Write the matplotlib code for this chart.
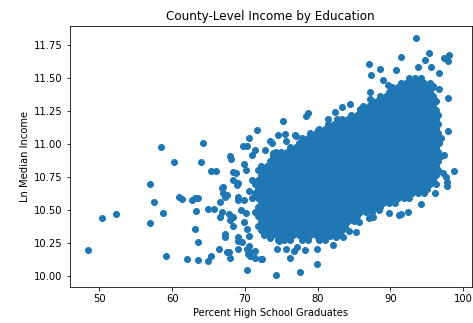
import numpy as np
import matplotlib
matplotlib.use('Agg')
import matplotlib.pyplot as plt

# scattered counties around the main cloud (percent HS grads, ln median income)
hs_scatter = [
    48.4, 50.3, 52.3, 56.9, 57.0, 57.5, 58.5, 58.7, 59.2, 60.3, 61.0, 61.4, 62.1, 62.7,
    63.1, 63.6, 63.3, 63.2, 63.6, 63.6, 64.3, 63.9, 64.9, 65.7, 65.3, 66.0, 64.9, 65.3,
    68.0, 68.1, 68.7, 68.4, 68.9, 66.9, 67.0, 67.5, 66.6, 69.0, 66.9, 66.6, 68.0, 68.4,
    67.3, 67.3, 66.4, 67.5, 68.0, 69.0, 69.0, 68.4, 67.0, 67.3, 68.2, 69.6, 70.3, 70.7,
    71.4, 72.2, 70.3, 69.1, 69.1, 69.8, 67.8, 69.4, 69.8, 68.4, 70.3, 69.1, 67.8, 70.7,
    71.4, 70.4, 70.6, 69.7, 70.6, 70.9, 71.6, 70.3, 71.4, 72.8, 73.7, 73.9, 73.4, 70.2,
    69.8, 70.5, 70.2, 70.5,
    74.5, 75.2, 75.5, 75.6, 76.9, 77.0, 78.4, 78.7, 80.1, 81.4, 82.4, 83.3, 84.4, 85.8,
    87.2, 87.2, 87.1, 87.3, 88.5, 89.0, 89.7, 90.8, 91.4, 93.5, 93.8, 94.7, 95.3, 95.6,
    96.7, 97.4, 98.0, 97.9, 96.7, 95.9,
    97.9, 97.9, 96.7, 97.4, 98.7, 97.2, 97.8, 96.1, 97.6, 97.8,
    94.2, 92.4, 91.5, 91.2, 89.8, 88.4, 87.6, 87.1, 85.7, 85.3, 84.3, 83.5, 82.5, 81.7,
    81.1, 80.0, 82.1, 79.9, 78.3, 77.1, 76.7, 74.4, 75.7, 74.7, 73.4, 76.2, 72.3, 79.9,
    77.5, 74.3,
]
inc_scatter = [
    10.195, 10.435, 10.47, 10.397, 10.694, 10.563, 10.98, 10.48, 10.149, 10.86, 10.599,
    10.581, 10.13, 10.573, 10.589, 10.591, 10.49, 10.353, 10.259, 10.123, 11.008, 10.86,
    10.51, 10.51, 10.798, 10.798, 10.11, 10.151,
    10.906, 10.886, 10.778, 10.727, 10.688, 10.663, 10.625, 10.612, 10.56, 10.573, 10.483,
    10.445, 10.42, 10.445, 10.318, 10.292, 10.203, 10.177, 10.138, 10.266, 10.203, 10.79,
    10.676, 10.60, 10.445, 10.253, 10.203, 10.151, 10.138, 10.126, 10.044, 10.70, 10.60,
    10.573, 10.471, 10.497, 10.407, 10.381, 10.356, 10.292, 10.177, 10.177, 10.19, 10.164,
    10.228, 10.982, 11.047, 10.919, 11.105, 10.982, 10.957, 10.957, 11.008, 10.932,
    11.021, 10.80, 10.85, 10.64, 10.48, 10.30,
    11.064, 11.174, 11.072, 11.02, 11.064, 11.059, 11.213, 11.231, 11.103, 11.187, 11.239,
    11.277, 11.302, 11.264, 11.392, 11.34, 11.609, 11.525, 11.571, 11.481, 11.443, 11.558,
    11.655, 11.80, 11.584, 11.635, 11.686, 11.584, 11.538, 11.648, 11.673, 11.627, 11.417,
    11.44,
    11.346, 11.097, 11.008, 10.919, 10.796, 10.778, 10.681, 10.625, 10.752, 10.714,
    10.543, 10.483, 10.471, 10.458, 10.476, 10.497, 10.445, 10.44, 10.407, 10.33, 10.343,
    10.292, 10.292, 10.305, 10.318, 10.292, 10.233, 10.203, 10.195, 10.215, 10.19, 10.203,
    10.203, 10.266, 10.287, 10.138, 10.126, 10.092, 10.031, 10.003,
]

# dense core of the cloud, read row by row (income level -> grad percentages)
core_inc = [11.500, 11.465, 11.430, 11.395, 11.360, 11.325, 11.290, 11.255, 11.220,
            11.185, 11.150, 11.115, 11.080, 11.045, 11.010, 10.975, 10.940, 10.905,
            10.870, 10.835, 10.800, 10.765, 10.730, 10.695, 10.660, 10.625, 10.590,
            10.555, 10.520, 10.485, 10.450, 10.415, 10.380, 10.345, 10.310, 10.275]
core_hs = [
    [92.6, 93.4, 94.2],
    [91.4, 92.2, 93.0, 93.8, 94.6, 95.4],
    [90.2, 91.0, 91.8, 92.6, 93.4, 94.2, 95.0, 95.8],
    [89.8, 90.6, 91.4, 92.2, 93.0, 93.8, 94.6, 95.4],
    [88.6, 89.4, 90.2, 91.0, 91.8, 92.6, 93.4, 94.2, 95.0, 95.8],
    [87.4, 88.2, 89.0, 89.8, 90.6, 91.4, 92.2, 93.0, 93.8, 94.6, 95.4, 96.2],
    [86.2, 87.0, 87.8, 88.6, 89.4, 90.2, 91.0, 91.8, 92.6, 93.4, 94.2, 95.0, 95.8],
    [85.8, 86.6, 87.4, 88.2, 89.0, 89.8, 90.6, 91.4, 92.2, 93.0, 93.8, 94.6, 95.4, 96.2],
    [84.6, 85.4, 86.2, 87.0, 87.8, 88.6, 89.4, 90.2, 91.0, 91.8, 92.6, 93.4, 94.2, 95.0,
     95.8, 96.6],
    [82.6, 83.4, 84.2, 85.0, 85.8, 86.6, 87.4, 88.2, 89.0, 89.8, 90.6, 91.4, 92.2, 93.0,
     93.8, 94.6, 95.4, 96.2],
    [81.4, 82.2, 83.0, 83.8, 84.6, 85.4, 86.2, 87.0, 87.8, 88.6, 89.4, 90.2, 91.0, 91.8,
     92.6, 93.4, 94.2, 95.0, 95.8, 96.6],
    [80.2, 81.0, 81.8, 82.6, 83.4, 84.2, 85.0, 85.8, 86.6, 87.4, 88.2, 89.0, 89.8, 90.6,
     91.4, 92.2, 93.0, 93.8, 94.6, 95.4, 96.2],
    [79.0, 79.8, 80.6, 81.4, 82.2, 83.0, 83.8, 84.6, 85.4, 86.2, 87.0, 87.8, 88.6, 89.4,
     90.2, 91.0, 91.8, 92.6, 93.4, 94.2, 95.0, 95.8, 96.6],
    [77.8, 78.6, 79.4, 80.2, 81.0, 81.8, 82.6, 83.4, 84.2, 85.0, 85.8, 86.6, 87.4, 88.2,
     89.0, 89.8, 90.6, 91.4, 92.2, 93.0, 93.8, 94.6, 95.4, 96.2, 97.0],
    [77.4, 78.2, 79.0, 79.8, 80.6, 81.4, 82.2, 83.0, 83.8, 84.6, 85.4, 86.2, 87.0, 87.8,
     88.6, 89.4, 90.2, 91.0, 91.8, 92.6, 93.4, 94.2, 95.0, 95.8, 96.6],
    [76.2, 77.0, 77.8, 78.6, 79.4, 80.2, 81.0, 81.8, 82.6, 83.4, 84.2, 85.0, 85.8, 86.6,
     87.4, 88.2, 89.0, 89.8, 90.6, 91.4, 92.2, 93.0, 93.8, 94.6, 95.4, 96.2],
    [74.2, 75.0, 75.8, 76.6, 77.4, 78.2, 79.0, 79.8, 80.6, 81.4, 82.2, 83.0, 83.8, 84.6,
     85.4, 86.2, 87.0, 87.8, 88.6, 89.4, 90.2, 91.0, 91.8, 92.6, 93.4, 94.2, 95.0, 95.8,
     96.6],
    [73.8, 74.6, 75.4, 76.2, 77.0, 77.8, 78.6, 79.4, 80.2, 81.0, 81.8, 82.6, 83.4, 84.2,
     85.0, 85.8, 86.6, 87.4, 88.2, 89.0, 89.8, 90.6, 91.4, 92.2, 93.0, 93.8, 94.6, 95.4,
     96.2, 97.0],
    [73.4, 74.2, 75.0, 75.8, 76.6, 77.4, 78.2, 79.0, 79.8, 80.6, 81.4, 82.2, 83.0, 83.8,
     84.6, 85.4, 86.2, 87.0, 87.8, 88.6, 89.4, 90.2, 91.0, 91.8, 92.6, 93.4, 94.2, 95.0,
     95.8, 96.6],
    [72.2, 73.0, 73.8, 74.6, 75.4, 76.2, 77.0, 77.8, 78.6, 79.4, 80.2, 81.0, 81.8, 82.6,
     83.4, 84.2, 85.0, 85.8, 86.6, 87.4, 88.2, 89.0, 89.8, 90.6, 91.4, 92.2, 93.0, 93.8,
     94.6, 95.4, 96.2],
    [71.8, 72.6, 73.4, 74.2, 75.0, 75.8, 76.6, 77.4, 78.2, 79.0, 79.8, 80.6, 81.4, 82.2,
     83.0, 83.8, 84.6, 85.4, 86.2, 87.0, 87.8, 88.6, 89.4, 90.2, 91.0, 91.8, 92.6, 93.4,
     94.2, 95.0, 95.8, 96.6],
    [72.2, 73.0, 73.8, 74.6, 75.4, 76.2, 77.0, 77.8, 78.6, 79.4, 80.2, 81.0, 81.8, 82.6,
     83.4, 84.2, 85.0, 85.8, 86.6, 87.4, 88.2, 89.0, 89.8, 90.6, 91.4, 92.2, 93.0, 93.8,
     94.6, 95.4, 96.2],
    [71.0, 71.8, 72.6, 73.4, 74.2, 75.0, 75.8, 76.6, 77.4, 78.2, 79.0, 79.8, 80.6, 81.4,
     82.2, 83.0, 83.8, 84.6, 85.4, 86.2, 87.0, 87.8, 88.6, 89.4, 90.2, 91.0, 91.8, 92.6,
     93.4, 94.2, 95.0, 95.8],
    [71.4, 72.2, 73.0, 73.8, 74.6, 75.4, 76.2, 77.0, 77.8, 78.6, 79.4, 80.2, 81.0, 81.8,
     82.6, 83.4, 84.2, 85.0, 85.8, 86.6, 87.4, 88.2, 89.0, 89.8, 90.6, 91.4, 92.2, 93.0,
     93.8, 94.6, 95.4, 96.2],
    [71.8, 72.6, 73.4, 74.2, 75.0, 75.8, 76.6, 77.4, 78.2, 79.0, 79.8, 80.6, 81.4, 82.2,
     83.0, 83.8, 84.6, 85.4, 86.2, 87.0, 87.8, 88.6, 89.4, 90.2, 91.0, 91.8, 92.6, 93.4,
     94.2, 95.0],
    [71.4, 72.2, 73.0, 73.8, 74.6, 75.4, 76.2, 77.0, 77.8, 78.6, 79.4, 80.2, 81.0, 81.8,
     82.6, 83.4, 84.2, 85.0, 85.8, 86.6, 87.4, 88.2, 89.0, 89.8, 90.6, 91.4, 92.2, 93.0,
     93.8, 94.6],
    [71.0, 71.8, 72.6, 73.4, 74.2, 75.0, 75.8, 76.6, 77.4, 78.2, 79.0, 79.8, 80.6, 81.4,
     82.2, 83.0, 83.8, 84.6, 85.4, 86.2, 87.0, 87.8, 88.6, 89.4, 90.2, 91.0, 91.8, 92.6],
    [72.2, 73.0, 73.8, 74.6, 75.4, 76.2, 77.0, 77.8, 78.6, 79.4, 80.2, 81.0, 81.8, 82.6,
     83.4, 84.2, 85.0, 85.8, 86.6, 87.4, 88.2, 89.0, 89.8, 90.6],
    [71.8, 72.6, 73.4, 74.2, 75.0, 75.8, 76.6, 77.4, 78.2, 79.0, 79.8, 80.6, 81.4, 82.2,
     83.0, 83.8, 84.6, 85.4, 86.2, 87.0, 87.8, 88.6],
    [71.4, 72.2, 73.0, 73.8, 74.6, 75.4, 76.2, 77.0, 77.8, 78.6, 79.4, 80.2, 81.0, 81.8,
     82.6, 83.4, 84.2, 85.0, 85.8, 86.6, 87.4],
    [71.8, 72.6, 73.4, 74.2, 75.0, 75.8, 76.6, 77.4, 78.2, 79.0, 79.8, 80.6, 81.4, 82.2,
     83.0, 83.8, 84.6, 85.4],
    [72.2, 73.0, 73.8, 74.6, 75.4, 76.2, 77.0, 77.8, 78.6, 79.4, 80.2, 81.0, 81.8, 82.6,
     83.4, 84.2, 85.0],
    [71.8, 72.6, 73.4, 74.2, 75.0, 75.8, 76.6, 77.4, 78.2, 79.0, 79.8, 80.6, 81.4, 82.2,
     83.0, 83.8],
    [72.2, 73.0, 73.8, 74.6, 75.4, 76.2, 77.0, 77.8, 78.6, 79.4, 80.2, 81.0, 81.8, 82.6,
     83.4],
    [72.6, 73.4, 74.2, 75.0, 75.8, 76.6, 77.4, 78.2, 79.0, 79.8, 80.6, 81.4, 82.2, 83.0],
    [74.6, 75.4, 76.2, 77.8, 78.6, 80.2, 81.0],
]

x = list(hs_scatter)
y = list(inc_scatter)
for level, row in zip(core_inc, core_hs):
    x += row
    y += [level] * len(row)

fig, ax = plt.subplots(figsize=(473 / 72, 323 / 72), dpi=72)
fig.subplots_adjust(left=0.147, right=0.998, bottom=0.1105, top=0.918)

ax.scatter(np.array(x), np.array(y))
ax.set_title('County-Level Income by Education')
ax.set_xlabel('Percent High School Graduates')
ax.set_ylabel('Ln Median Income')

fig.savefig('out.png', dpi=72)
